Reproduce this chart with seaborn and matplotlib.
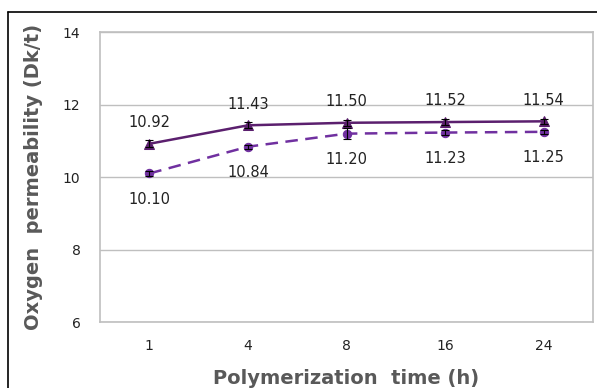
import numpy as np
import pandas as pd
import matplotlib
matplotlib.use('Agg')
import matplotlib.pyplot as plt
import seaborn as sns
from matplotlib.lines import Line2D

# Data
times = ['1', '4', '8', '16', '24']
solid_vals = [10.92, 11.43, 11.50, 11.52, 11.54]
dashed_vals = [10.10, 10.84, 11.20, 11.23, 11.25]
solid_err = [0.10, 0.08, 0.08, 0.08, 0.07]
dashed_err = [0.06, 0.06, 0.15, 0.07, 0.06]

df = pd.DataFrame({'time': times * 2,
                   'value': solid_vals + dashed_vals,
                   'series': ['solid'] * 5 + ['dashed'] * 5})

sns.set_style('white')
plt.rcParams['font.family'] = ['DejaVu Sans']

fig = plt.figure(figsize=(5.97, 3.88), dpi=100)
ax = fig.add_axes([0.1675, 0.170, 0.826, 0.747])

c_solid = '#5B1F6E'
c_dash = '#7030A0'

sns.lineplot(data=df[df['series'] == 'solid'], x='time', y='value', color=c_solid,
             marker='^', markersize=7, markeredgecolor=c_solid, linewidth=1.8, ax=ax)
sns.lineplot(data=df[df['series'] == 'dashed'], x='time', y='value', color=c_dash,
             marker='o', markersize=6, markeredgecolor=c_dash, linewidth=1.8,
             linestyle=(0, (5, 3)), ax=ax)

pos = np.arange(len(times))
ax.errorbar(pos, solid_vals, yerr=solid_err, fmt='none', ecolor='black', elinewidth=0.8, capsize=3, capthick=0.8)
ax.errorbar(pos, dashed_vals, yerr=dashed_err, fmt='none', ecolor='black', elinewidth=0.8, capsize=3, capthick=0.8)

for i in range(len(times)):
    ax.text(pos[i], solid_vals[i] + 0.38, f'{solid_vals[i]:.2f}', ha='center', va='bottom', fontsize=10.5, color='#222222')
    ax.text(pos[i], dashed_vals[i] - 0.5, f'{dashed_vals[i]:.2f}', ha='center', va='top', fontsize=10.5, color='#222222')

ax.set_xlim(-0.5, 4.5)
ax.set_ylim(6, 14)
ax.set_yticks([6, 8, 10, 12, 14])
ax.set_xticks(pos)
ax.set_xticklabels(times)
ax.yaxis.grid(True, color='#BFBFBF', linewidth=1)
ax.xaxis.grid(False)
for s in ax.spines.values():
    s.set_color('#BFBFBF')
    s.set_linewidth(1.2)
ax.tick_params(axis='both', length=0, labelsize=10, colors='#222222')
ax.tick_params(axis='y', pad=14)
ax.tick_params(axis='x', pad=12)

ax.set_xlabel('Polymerization  time (h)', fontsize=14, fontweight='bold', color='#595959', labelpad=12)
ax.set_ylabel('Oxygen  permeability (Dk/t)', fontsize=14, fontweight='bold', color='#595959', labelpad=14)

# outer frame of the original image
fig.add_artist(Line2D([8 / 597, 1], [1 - 12 / 388, 1 - 12 / 388], color='black', linewidth=1.2, transform=fig.transFigure))
fig.add_artist(Line2D([8 / 597, 8 / 597], [0, 1 - 12 / 388], color='black', linewidth=1.2, transform=fig.transFigure))

fig.savefig('out.png', dpi=100)
